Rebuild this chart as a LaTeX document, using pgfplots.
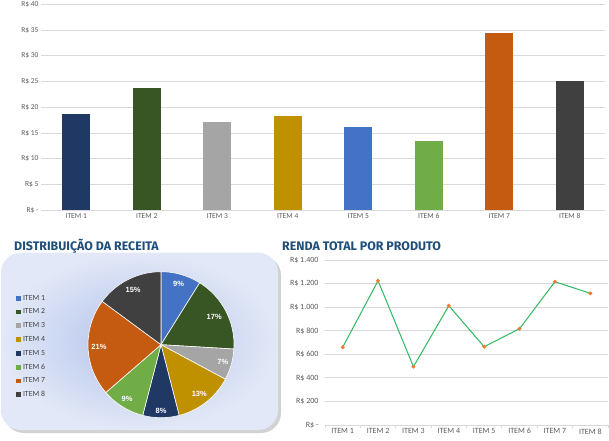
\documentclass[border=0pt]{standalone}
\usepackage{pgfplots}
\pgfplotsset{compat=1.18}
\usepackage{fontspec}
\setmainfont{Carlito}
\newfontfamily\titlefont{Fira Sans}
\newfontfamily\pctfont{Liberation Sans}
\definecolor{cnavy}{HTML}{203864}
\definecolor{cdgreen}{HTML}{375623}
\definecolor{cgray}{HTML}{A5A5A5}
\definecolor{cgold}{HTML}{BF9000}
\definecolor{cblue}{HTML}{4472C4}
\definecolor{cgreen}{HTML}{70AD47}
\definecolor{corange}{HTML}{C55A11}
\definecolor{cdark}{HTML}{404040}
\definecolor{gridc}{HTML}{D9D9D9}
\definecolor{tickc}{HTML}{595959}
\definecolor{titleblue}{HTML}{1F4E79}
\definecolor{lgreen}{RGB}{46,184,96}
\definecolor{morange}{HTML}{ED7D31}
\definecolor{bginner}{HTML}{B0C1EA}
\definecolor{bgouter}{HTML}{E2E8F7}
\begin{document}
\begin{tikzpicture}[x=1pt,y=1pt]
\useasboundingbox (0,0) rectangle (609,440);
% ---------- top bar chart ----------
\begin{axis}[
  at={(41pt,229.7pt)}, anchor=south west,
  scale only axis, width=564pt, height=206pt,
  xmin=-0.5, xmax=7.5, ymin=0, ymax=40,
  ytick={0,5,...,40},
  yticklabels={R\$ -,R\$ 5,R\$ 10,R\$ 15,R\$ 20,R\$ 25,R\$ 30,R\$ 35,R\$ 40},
  xtick={0,...,7},
  xticklabels={ITEM 1,ITEM 2,ITEM 3,ITEM 4,ITEM 5,ITEM 6,ITEM 7,ITEM 8},
  ymajorgrids, grid style={gridc, line width=0.8pt},
  axis line style={draw=none},
  major tick length=0pt,
  tick label style={font=\fontsize{7.5}{8.5}\selectfont, text=tickc},
  yticklabel style={xshift=1pt},
  /pgf/number format/assume math mode=true,
  ybar, bar width=28pt, bar shift=0pt,
  clip=false,
]
\addplot[fill=cnavy, draw=none] coordinates {(0,18.7)};
\addplot[fill=cdgreen, draw=none] coordinates {(1,23.75)};
\addplot[fill=cgray, draw=none] coordinates {(2,17.1)};
\addplot[fill=cgold, draw=none] coordinates {(3,18.3)};
\addplot[fill=cblue, draw=none] coordinates {(4,16.2)};
\addplot[fill=cgreen, draw=none] coordinates {(5,13.45)};
\addplot[fill=corange, draw=none] coordinates {(6,34.4)};
\addplot[fill=cdark, draw=none] coordinates {(7,25.1)};
\end{axis}
% ---------- titles ----------
\node[anchor=base west, inner sep=0pt, text=titleblue] at (14,190)
  {\titlefont\bfseries\fontsize{12.4}{12.4}\selectfont DISTRIBUIÇÃO DA RECEITA};
\node[anchor=base west, inner sep=0pt, text=titleblue] at (282,190)
  {\titlefont\bfseries\fontsize{12.4}{12.4}\selectfont RENDA TOTAL POR PRODUTO};
% ---------- pie background ----------
\fill[black!35, opacity=0.5, rounded corners=20pt] (4,7) rectangle (281,184.5);
\shade[rounded corners=20pt, inner color=bginner, outer color=bgouter] (1,10) rectangle (278,187.3);
% ---------- pie ----------
\begin{axis}[
  at={(161pt,95.3pt)}, anchor=center,
  scale only axis, width=146pt, height=146pt,
  xmin=-1, xmax=1, ymin=-1, ymax=1,
  hide axis, clip=false,
  legend style={at={(axis description cs:-0.493,0.855)}, anchor=north west,
    draw=none, fill=none, inner sep=0pt, row sep=3.2pt,
    font=\fontsize{7.8}{8}\selectfont, text=cdark,
    /tikz/every odd column/.append style={column sep=0pt}},
  legend cell align=left,
  legend image code/.code={\fill[#1, draw=none] (0pt,-2.4pt) rectangle (4.8pt,2.4pt);},
]
\addplot[fill=cblue, draw=white, line width=0.6pt, domain=90:58, samples=20, variable=\t] ({cos(\t)},{sin(\t)}) -- (0,0) -- cycle;
\addlegendentry{ITEM 1}
\addplot[fill=cdgreen, draw=white, line width=0.6pt, domain=58:-3.4, samples=30, variable=\t] ({cos(\t)},{sin(\t)}) -- (0,0) -- cycle;
\addlegendentry{ITEM 2}
\addplot[fill=cgray, draw=white, line width=0.6pt, domain=-3.4:-28.2, samples=15, variable=\t] ({cos(\t)},{sin(\t)}) -- (0,0) -- cycle;
\addlegendentry{ITEM 3}
\addplot[fill=cgold, draw=white, line width=0.6pt, domain=-28.2:-75.6, samples=25, variable=\t] ({cos(\t)},{sin(\t)}) -- (0,0) -- cycle;
\addlegendentry{ITEM 4}
\addplot[fill=cnavy, draw=white, line width=0.6pt, domain=-75.6:-104.5, samples=15, variable=\t] ({cos(\t)},{sin(\t)}) -- (0,0) -- cycle;
\addlegendentry{ITEM 5}
\addplot[fill=cgreen, draw=white, line width=0.6pt, domain=-104.5:-139.1, samples=20, variable=\t] ({cos(\t)},{sin(\t)}) -- (0,0) -- cycle;
\addlegendentry{ITEM 6}
\addplot[fill=corange, draw=white, line width=0.6pt, domain=-139.1:-216.4, samples=35, variable=\t] ({cos(\t)},{sin(\t)}) -- (0,0) -- cycle;
\addlegendentry{ITEM 7}
\addplot[fill=cdark, draw=white, line width=0.6pt, domain=-216.4:-270, samples=25, variable=\t] ({cos(\t)},{sin(\t)}) -- (0,0) -- cycle;
\addlegendentry{ITEM 8}
\begin{scope}[every node/.style={text=white, font=\pctfont\bfseries\fontsize{7.5}{8}\selectfont}]
\node at ({0.87*cos(74)},{0.87*sin(74)}) {9\%};
\node at ({0.82*cos(27.3)},{0.82*sin(27.3)}) {17\%};
\node at ({0.88*cos(-15.8)},{0.88*sin(-15.8)}) {7\%};
\node at ({0.85*cos(-51.9)},{0.85*sin(-51.9)}) {13\%};
\node at ({0.91*cos(-90)},{0.91*sin(-90)}) {8\%};
\node at ({0.88*cos(-121.8)},{0.88*sin(-121.8)}) {9\%};
\node at ({0.85*cos(182.3)},{0.85*sin(182.3)}) {21\%};
\node at ({0.84*cos(117)},{0.84*sin(117)}) {15\%};
\end{scope}
\end{axis}
% ---------- line chart ----------
\begin{axis}[
  at={(325pt,15pt)}, anchor=south west,
  scale only axis, width=283pt, height=165pt,
  xmin=-0.5, xmax=7.5, ymin=0, ymax=1400,
  ytick={0,200,...,1400},
  yticklabels={R\$ -,R\$ 200,R\$ 400,R\$ 600,R\$ 800,R\$ 1.000,R\$ 1.200,R\$ 1.400},
  xtick={0,...,7},
  xticklabels={ITEM 1,ITEM 2,ITEM 3,ITEM 4,ITEM 5,ITEM 6,ITEM 7,ITEM 8},
  ymajorgrids, grid style={gridc, line width=0.8pt},
  axis x line*=bottom, axis y line*=left,
  x axis line style={gridc, line width=0.8pt, -},
  y axis line style={draw=none},
  major tick length=0pt,
  extra x ticks={-0.5,0.5,...,7.5},
  extra x tick labels={},
  extra x tick style={major tick length=3pt, tick align=outside, tick style={gridc, line width=0.8pt}, grid=none},
  tick label style={font=\fontsize{8}{9}\selectfont, text=tickc},
  yticklabel style={xshift=-3pt},
  /pgf/number format/assume math mode=true,
  clip=false,
]
\addplot[color=lgreen, line width=1pt, mark=*, mark size=1.4pt,
  mark options={fill=morange, draw=morange}]
  coordinates {(0,660) (1,1224) (2,495) (3,1012) (4,664) (5,817) (6,1216) (7,1117)};
\end{axis}
\end{tikzpicture}
\end{document}
